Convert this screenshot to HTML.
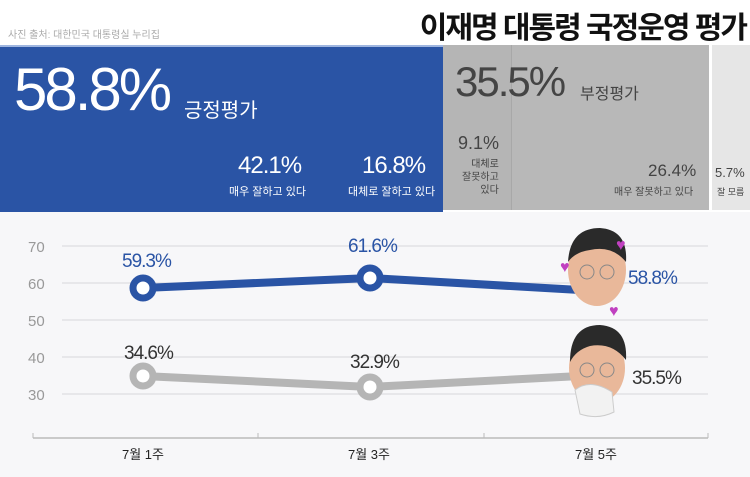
<!DOCTYPE html>
<html><head><meta charset="utf-8"><style>
body{margin:0;width:750px;height:477px;overflow:hidden;background:#fff;font-family:"Liberation Sans","Noto Sans CJK KR",sans-serif;position:relative}
.a{position:absolute;white-space:nowrap}
</style></head><body>
<div class="a" style="left:8px;top:26px;font-size:10px;color:#aaa">사진 출처: 대한민국 대통령실 누리집</div>
<div class="a" style="right:4px;top:3px;font-size:30px;font-weight:bold;color:#111;letter-spacing:-2px">이재명 대통령 국정운영 평가</div>
<div class="a" style="left:0;top:45px;width:443px;height:165px;background:#2a54a5;border-top:2px solid #9fb6e0"></div>
<div class="a" style="left:443px;top:45px;width:68px;height:165px;background:#b5b5b5"></div>
<div class="a" style="left:511px;top:45px;width:197px;height:165px;background:#b8b8b8;border-left:1px solid #a8a8a8"></div>
<div class="a" style="left:712px;top:45px;width:38px;height:165px;background:#e6e6e6"></div>
<div class="a" style="left:14px;top:55px;font-size:60px;color:#fff;letter-spacing:-3px">58.8%</div>
<div class="a" style="left:184px;top:94px;font-size:20px;color:#fff">긍정평가</div>
<div class="a" style="left:455px;top:58px;font-size:42px;color:#444;letter-spacing:-2px">35.5%</div>
<div class="a" style="left:580px;top:80px;font-size:16px;color:#444">부정평가</div>
<div class="a" style="left:238px;top:152px;font-size:24px;color:#fff;letter-spacing:-1px">42.1%</div>
<div class="a" style="left:229px;top:183px;font-size:11px;color:#fff">매우 잘하고 있다</div>
<div class="a" style="left:362px;top:152px;font-size:24px;color:#fff;letter-spacing:-1px">16.8%</div>
<div class="a" style="left:348px;top:183px;font-size:11px;color:#fff">대체로 잘하고 있다</div>
<div class="a" style="left:458px;top:133px;font-size:18px;color:#444">9.1%</div>
<div class="a" style="left:462px;top:158px;font-size:10px;color:#444;line-height:13px;text-align:right">대체로<br>잘못하고<br>있다</div>
<div class="a" style="left:648px;top:161px;font-size:17px;color:#444">26.4%</div>
<div class="a" style="left:614px;top:183px;font-size:10px;color:#444">매우 잘못하고 있다</div>
<div class="a" style="left:715px;top:165px;font-size:13px;color:#444">5.7%</div>
<div class="a" style="left:717px;top:185px;font-size:9px;color:#444">잘 모름</div>
<div class="a" style="left:0;top:212px;width:750px;height:265px;background:#f7f7f9"></div>
<svg class="a" style="left:0;top:0" width="750" height="477">
<g stroke="#e2e2e6" stroke-width="1.5">
<line x1="62" y1="246" x2="708" y2="246"/><line x1="62" y1="283" x2="708" y2="283"/><line x1="62" y1="320" x2="708" y2="320"/><line x1="62" y1="357" x2="708" y2="357"/><line x1="62" y1="394" x2="708" y2="394"/></g>
<g fill="#999" font-size="15" font-family="Liberation Sans,sans-serif"><text x="28" y="252">70</text><text x="28" y="289">60</text><text x="28" y="326">50</text><text x="28" y="363">40</text><text x="28" y="400">30</text></g>
<line x1="33" y1="438" x2="708" y2="438" stroke="#bbb" stroke-width="1.5"/>
<line x1="258" y1="433" x2="258" y2="438" stroke="#bbb"/><line x1="484" y1="433" x2="484" y2="438" stroke="#bbb"/><line x1="33" y1="433" x2="33" y2="438" stroke="#bbb"/><line x1="708" y1="433" x2="708" y2="438" stroke="#bbb"/>
<polyline points="143,288 370,278 580,290" fill="none" stroke="#2a54a5" stroke-width="8"/>
<polyline points="143,376 370,387 580,376" fill="none" stroke="#b5b5b5" stroke-width="8"/>
<circle cx="143" cy="288" r="10" fill="#fff" stroke="#2a54a5" stroke-width="7"/>
<circle cx="370" cy="278" r="10" fill="#fff" stroke="#2a54a5" stroke-width="7"/>
<circle cx="143" cy="376" r="10" fill="#fff" stroke="#b5b5b5" stroke-width="7"/>
<circle cx="370" cy="387" r="10" fill="#fff" stroke="#b5b5b5" stroke-width="7"/>
<g font-family="Liberation Sans,Noto Sans CJK KR,sans-serif" letter-spacing="-1">
<text x="122" y="267" font-size="19" fill="#2a54a5">59.3%</text>
<text x="348" y="252" font-size="19" fill="#2a54a5">61.6%</text>
<text x="628" y="284" font-size="19" fill="#2a54a5">58.8%</text>
<text x="124" y="359" font-size="19" fill="#333">34.6%</text>
<text x="350" y="368" font-size="19" fill="#333">32.9%</text>
<text x="632" y="384" font-size="19" fill="#333">35.5%</text>
<text x="122" y="459" font-size="13" fill="#222" letter-spacing="0">7월 1주</text>
<text x="348" y="459" font-size="13" fill="#222" letter-spacing="0">7월 3주</text>
<text x="575" y="459" font-size="13" fill="#222" letter-spacing="0">7월 5주</text>
</g>
<ellipse cx="597" cy="270" rx="29" ry="36" fill="#e9b89a"/>
<path d="M568 262 Q570 228 600 228 Q628 230 626 262 Q612 245 590 250 Q575 252 568 262Z" fill="#2a2a2a"/>
<circle cx="587" cy="272" r="7" fill="none" stroke="#888"/><circle cx="607" cy="272" r="7" fill="none" stroke="#888"/>
<text x="560" y="272" font-size="16" fill="#c040c0">♥</text><text x="616" y="250" font-size="16" fill="#c040c0">♥</text><text x="609" y="316" font-size="16" fill="#c040c0">♥</text>
<ellipse cx="597" cy="368" rx="28" ry="35" fill="#e9b89a"/>
<path d="M570 362 Q570 325 600 325 Q628 327 626 360 Q612 342 590 346 Q576 350 570 362Z" fill="#2a2a2a"/>
<circle cx="587" cy="370" r="7" fill="none" stroke="#888"/><circle cx="607" cy="370" r="7" fill="none" stroke="#888"/>
<path d="M575 390 Q590 378 612 392 L614 412 Q598 420 580 414Z" fill="#f2f2f2" stroke="#ccc"/>
</svg>
</body></html>
